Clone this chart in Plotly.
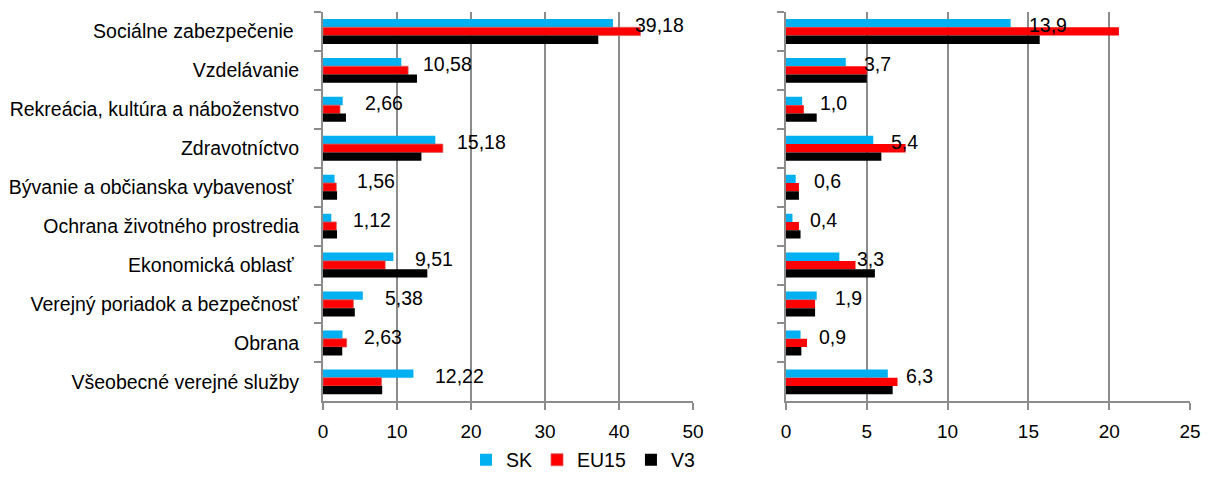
import plotly.graph_objects as go

categories = [
    "Sociálne zabezpečenie\u00a0",
    "Vzdelávanie",
    "Rekreácia, kultúra a náboženstvo",
    "Zdravotníctvo",
    "Bývanie a občianska vybavenosť\u00a0",
    "Ochrana životného prostredia",
    "Ekonomická oblasť\u00a0",
    "Verejný poriadok a bezpečnosť",
    "Obrana",
    "Všeobecné verejné služby",
]
series_names = ["SK", "EU15", "V3"]

left_sk = [39.18, 10.58, 2.66, 15.18, 1.56, 1.12, 9.51, 5.38, 2.63, 12.22]
left_eu15 = [42.9, 11.5, 2.3, 16.2, 1.8, 1.8, 8.4, 4.1, 3.2, 7.9]
left_v3 = [37.2, 12.7, 3.1, 13.3, 1.9, 1.9, 14.1, 4.3, 2.6, 8.0]

right_sk = [13.9, 3.7, 1.0, 5.4, 0.6, 0.4, 3.3, 1.9, 0.9, 6.3]
right_eu15 = [20.6, 5.0, 1.1, 7.4, 0.8, 0.8, 4.3, 1.8, 1.3, 6.9]
right_v3 = [15.7, 5.0, 1.9, 5.9, 0.8, 0.9, 5.5, 1.8, 0.95, 6.6]

left_ticks = [0, 10, 20, 30, 40, 50]
right_ticks = [0, 5, 10, 15, 20, 25]

colors = {"SK": "#00B0F0", "EU15": "#FF0000", "V3": "#000000"}
edges = {"SK": "rgba(0,176,240,0)", "EU15": "#D86060", "V3": "rgba(0,0,0,0)"}
FONT = "Liberation Sans, Arial"
GRID = "#8C8C8C"
FS = 19.5

fig = go.Figure()
for name, vals in zip(series_names, [left_sk, left_eu15, left_v3]):
    fig.add_trace(go.Bar(y=categories, x=vals, orientation="h", name=name,
                         marker=dict(color=colors[name], line=dict(width=0.8, color=edges[name])),
                         xaxis="x", yaxis="y", legendgroup=name))
for name, vals in zip(series_names, [right_sk, right_eu15, right_v3]):
    fig.add_trace(go.Bar(y=categories, x=vals, orientation="h", name=name,
                         marker=dict(color=colors[name], line=dict(width=0)),
                         xaxis="x2", yaxis="y2", legendgroup=name, showlegend=False))

def fmt(v, d):
    return f"{v:.{d}f}".replace(".", ",")

annotations = []
for c, v in zip(categories, left_sk):
    annotations.append(dict(x=v, y=c, xref="x", yref="y", text=fmt(v, 2),
                            showarrow=False, xanchor="left", yanchor="middle",
                            xshift=20, yshift=6, font=dict(size=FS, color="black", family=FONT)))
for c, v in zip(categories, right_sk):
    annotations.append(dict(x=v, y=c, xref="x2", yref="y2", text=fmt(v, 1),
                            showarrow=False, xanchor="left", yanchor="middle",
                            xshift=16, yshift=6, font=dict(size=FS, color="black", family=FONT)))

# page has an 8px body margin; figure sized to fit the 1211x480 window
OFF = 8
W, H = 1211 - OFF, 480 - OFF

def px(p):
    return (p - OFF) / W

def py(p):
    return 1 - (p - OFF) / H

ydom = [py(403), py(12)]

xaxis_common = dict(showgrid=True, gridcolor=GRID, gridwidth=2, showline=True,
                    linecolor=GRID, linewidth=2, ticks="outside", ticklen=7,
                    tickcolor=GRID, tickwidth=2, zeroline=False, automargin=False,
                    ticklabelstandoff=5,
                    tickfont=dict(size=19, color="black", family=FONT))
yaxis_common = dict(autorange="reversed", showline=True, linecolor=GRID, linewidth=2,
                    ticks="outside", ticklen=7, tickcolor=GRID, tickwidth=2,
                    tickson="boundaries", showgrid=False, domain=ydom, automargin=False)

fig.update_layout(
    width=W, height=H,
    margin=dict(l=0, r=0, t=0, b=0),
    paper_bgcolor="white", plot_bgcolor="white",
    barmode="group", bargap=0.36, bargroupgap=0,
    font=dict(family=FONT, color="black"),
    xaxis=dict(domain=[px(323), px(693)], range=[0, 50], tickvals=left_ticks,
               anchor="y", **xaxis_common),
    xaxis2=dict(domain=[px(786), px(1190)], range=[0, 25], tickvals=right_ticks,
                anchor="y2", **xaxis_common),
    yaxis=dict(anchor="x", tickfont=dict(size=FS, color="black", family=FONT),
               ticklabelstandoff=18, **yaxis_common),
    yaxis2=dict(anchor="x2", showticklabels=False, **yaxis_common),
    legend=dict(orientation="h", x=px(583), xanchor="center", y=py(462),
                yanchor="middle", font=dict(size=FS, family=FONT, color="black"),
                itemwidth=30, traceorder="normal", bgcolor="rgba(0,0,0,0)"),
    annotations=annotations,
    showlegend=True,
)

fig.write_html("out.html")
